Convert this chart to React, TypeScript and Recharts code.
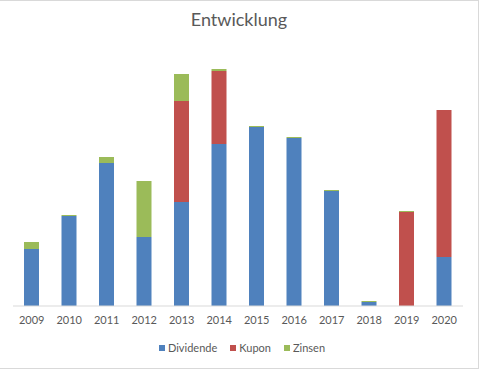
import React from 'react';
import { BarChart, Bar, XAxis, YAxis, Legend } from 'recharts';

const years = ['2009', '2010', '2011', '2012', '2013', '2014', '2015', '2016', '2017', '2018', '2019', '2020'];
const dividende = [57, 90, 143, 69, 104, 162, 179, 168, 115, 4, 0, 49];
const kupon = [0, 0, 0, 0, 101, 73, 0, 0, 0, 0, 94, 147];
const zinsen = [7, 1, 6, 56, 27, 2, 1, 1, 1, 1, 1, 0];

const data = years.map((year, i) => ({
  year,
  Dividende: dividende[i],
  Kupon: kupon[i],
  Zinsen: zinsen[i],
}));

const font = 'Lato, "Open Sans", sans-serif';

const renderLegend = (props: any) => (
  <div style={{ display: 'flex', justifyContent: 'center', fontSize: 11, color: '#595959' }}>
    {props.payload.map((entry: any) => (
      <span key={entry.value} style={{ display: 'inline-flex', alignItems: 'center', marginRight: 13 }}>
        <span style={{ width: 6, height: 6, background: entry.color, marginRight: 3, display: 'inline-block' }} />
        {entry.value}
      </span>
    ))}
  </div>
);

const App: React.FC = () => {
  return (
    <div style={{ position: 'absolute', left: 0, top: 0, width: 481, height: 369, background: '#fff', fontFamily: font }}>
      <div
        style={{
          position: 'absolute', left: -2, top: 0, width: 480, height: 367,
          borderTop: '1px solid #d9d9d9', borderRight: '1px solid #d9d9d9', borderBottom: '1px solid #d9d9d9',
        }}
      />
      <div style={{ position: 'absolute', left: 0, top: 8, width: 478, textAlign: 'center', fontSize: 18, color: '#595959' }}>
        Entwicklung
      </div>
      <BarChart
        width={481}
        height={369}
        data={data}
        margin={{ top: 56, right: 18, left: 13, bottom: 33 }}
        barSize={15}
        style={{ position: 'absolute', left: 0, top: 0 }}
      >
        <XAxis
          dataKey="year"
          axisLine={{ stroke: '#d9d9d9' }}
          tickLine={false}
          tickMargin={4}
          interval={0}
          tick={{ fontSize: 11, fill: '#595959', fontFamily: font }}
        />
        <YAxis hide domain={[0, 250]} />
        <Legend
          verticalAlign="middle"
          content={renderLegend}
          wrapperStyle={{ top: 341, left: 8, width: 481, fontFamily: font }}
        />
        <Bar dataKey="Dividende" stackId="a" fill="#4f81bd" isAnimationActive={false} />
        <Bar dataKey="Kupon" stackId="a" fill="#c0504d" isAnimationActive={false} />
        <Bar dataKey="Zinsen" stackId="a" fill="#9bbb59" isAnimationActive={false} />
      </BarChart>
    </div>
  );
};

export default App;
